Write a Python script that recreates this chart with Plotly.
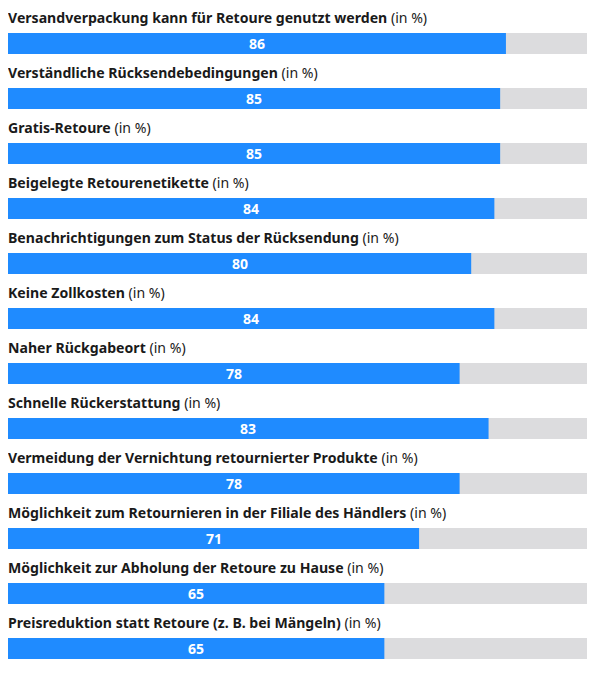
import plotly.graph_objects as go

categories = [
    "Versandverpackung kann für Retoure genutzt werden",
    "Verständliche Rücksendebedingungen",
    "Gratis-Retoure",
    "Beigelegte Retourenetikette",
    "Benachrichtigungen zum Status der Rücksendung",
    "Keine Zollkosten",
    "Naher Rückgabeort",
    "Schnelle Rückerstattung",
    "Vermeidung der Vernichtung retournierter Produkte",
    "Möglichkeit zum Retournieren in der Filiale des Händlers",
    "Möglichkeit zur Abholung der Retoure zu Hause",
    "Preisreduktion statt Retoure (z. B. bei Mängeln)",
]
values = [86, 85, 85, 84, 80, 84, 78, 83, 78, 71, 65, 65]
unit_suffix = "(in %)"
max_value = 100

BLUE = "#1f8bff"
GRAY = "#dcdcde"
FONT = "Noto Sans"

ypos = list(range(len(categories)))

fig = go.Figure()
fig.add_trace(go.Bar(
    x=[max_value] * len(categories), y=ypos, orientation="h",
    marker=dict(color=GRAY, line=dict(width=0)), width=0.38,
    hoverinfo="skip", showlegend=False,
))
fig.add_trace(go.Bar(
    x=values, y=ypos, orientation="h",
    marker=dict(color=BLUE, line=dict(width=0)), width=0.38,
    hoverinfo="skip", showlegend=False,
))

for i, (c, v) in enumerate(zip(categories, values)):
    fig.add_annotation(
        x=0, y=i - 0.47, xref="x", yref="y",
        text=f"<b>{c}</b> {unit_suffix}",
        showarrow=False, xanchor="left", yanchor="middle", xshift=-2,
        font=dict(family=FONT, size=14.1, color="#1a1a1a"),
    )
    fig.add_annotation(
        x=v / 2, y=i, xref="x", yref="y",
        text=f"<b>{v}</b>",
        showarrow=False, xanchor="center", yanchor="middle",
        font=dict(family=FONT, size=14, color="white"),
    )

fig.update_layout(
    width=592, height=667,
    margin=dict(l=0, r=13, t=0, b=0),
    plot_bgcolor="white", paper_bgcolor="white",
    barmode="overlay",
    xaxis=dict(range=[0, max_value], visible=False, fixedrange=True),
    yaxis=dict(range=[11.4818, -0.6455], visible=False, fixedrange=True),
)

fig.write_html("out.html")
